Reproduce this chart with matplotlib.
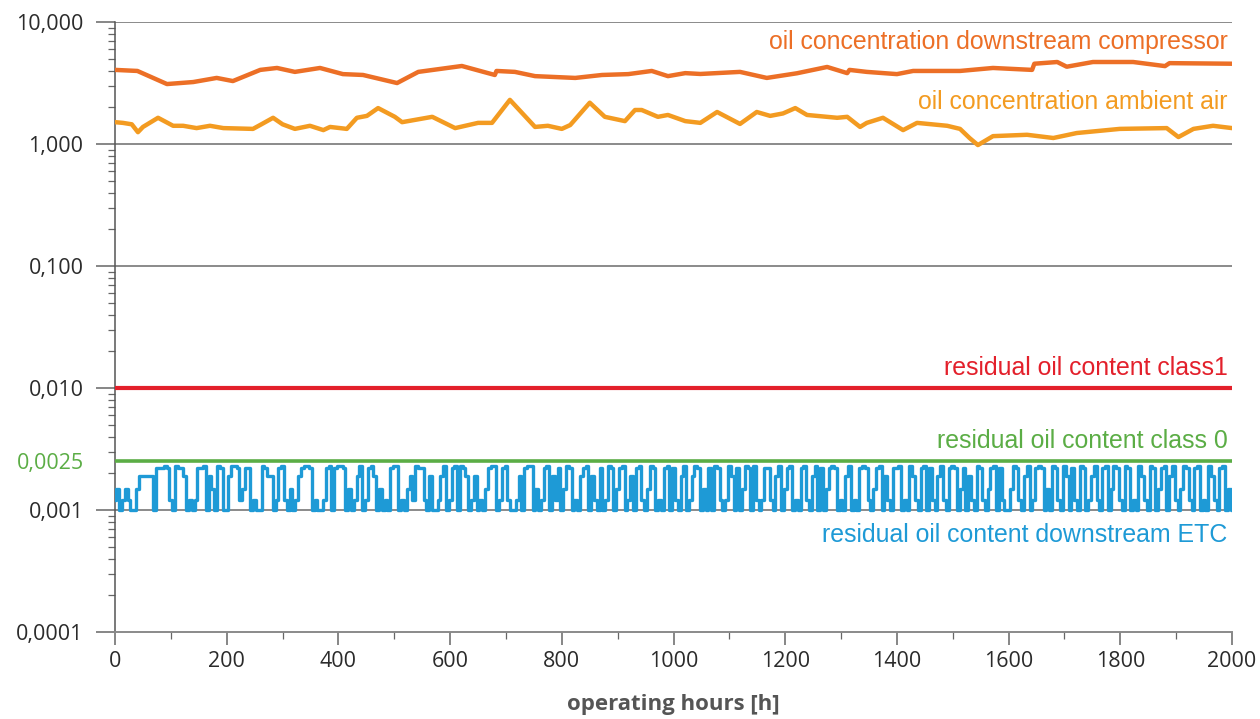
import numpy as np
import matplotlib
matplotlib.use("Agg")
from matplotlib import pyplot as plt
from matplotlib.ticker import FixedLocator, LogLocator, NullFormatter

# --- data ---
comp_hours = [0, 40, 93, 140, 182, 211, 260, 290, 322, 367, 408, 444, 505, 543,
              621, 680, 683, 716, 752, 824, 872, 919, 961, 990, 1021, 1048, 1119,
              1167, 1221, 1275, 1311, 1315, 1346, 1400, 1429, 1513, 1572, 1642,
              1646, 1687, 1704, 1751, 1823, 1880, 1888, 2000]
comp_values = [4.05, 3.97, 3.10, 3.22, 3.48, 3.28, 4.05, 4.2, 3.9, 4.2, 3.74, 3.68,
               3.16, 3.9, 4.36, 3.68, 3.97, 3.9, 3.6, 3.48, 3.68, 3.74, 3.97, 3.6,
               3.81, 3.75, 3.9, 3.48, 3.8, 4.28, 3.81, 4.05, 3.9, 3.74, 3.97, 3.97,
               4.2, 4.05, 4.55, 4.7, 4.3, 4.7, 4.7, 4.35, 4.6, 4.55]

amb_hours = [0, 14, 30, 41, 50, 77, 104, 122, 146, 170, 194, 247, 262, 283, 300,
             322, 349, 373, 385, 415, 433, 451, 471, 501, 514, 568, 609, 650, 675,
             707, 752, 775, 800, 815, 850, 877, 913, 931, 943, 972, 990, 1021,
             1048, 1078, 1119, 1149, 1173, 1196, 1218, 1239, 1293, 1311, 1334,
             1346, 1375, 1411, 1436, 1490, 1513, 1530, 1545, 1572, 1633, 1680,
             1722, 1799, 1883, 1904, 1931, 1966, 2000]
amb_values = [1.51, 1.49, 1.45, 1.25, 1.38, 1.64, 1.41, 1.41, 1.35, 1.41, 1.35,
              1.33, 1.45, 1.64, 1.45, 1.33, 1.41, 1.30, 1.38, 1.33, 1.64, 1.70,
              1.97, 1.67, 1.51, 1.67, 1.35, 1.49, 1.49, 2.30, 1.38, 1.41, 1.33,
              1.43, 2.18, 1.67, 1.54, 1.90, 1.90, 1.67, 1.73, 1.54, 1.49, 1.83,
              1.46, 1.83, 1.70, 1.78, 1.97, 1.73, 1.64, 1.67, 1.38, 1.49, 1.64,
              1.30, 1.49, 1.41, 1.33, 1.12, 0.98, 1.16, 1.19, 1.12, 1.23, 1.33,
              1.35, 1.14, 1.33, 1.41, 1.35]

class1_limit = 0.01
class0_limit = 0.0025

# residual oil downstream ETC, one reading every 5 h, coded as level index
etc_step = 5
etc_levels = [0.0010, 0.0012, 0.0015, 0.0019, 0.0022, 0.0023]
etc_codes = (
    "1201210023333304445410544301014450320540"
    "0355412440100543301451020134554010014504"
    "5540201350145302010455010231544103001350"
    "1450543013010245501451001304550201450314"
    "0254010345031040154024501304510254010450"
    "4103501354020405410153040254051014410350"
    "2450104510350402454010350104541024503104"
    "4501053104504103510454024031054102450410"
    "0254103501454020541053041054013510450254"
    "1054010531054024503510254104501053104502"
    "0"
)

ytick_values = [10, 1, 0.1, 0.01, 0.0025, 0.001, 0.0001]
ytick_labels = ["10,000", "1,000", "0,100", "0,010", "0,0025", "0,001", "0,0001"]

C_COMP = "#EC6F26"
C_AMB = "#F39B21"
C_RED = "#E3202B"
C_GREEN = "#5BAD45"
C_BLUE = "#1E9AD6"
C_GRID = "#8a8a8a"

fig = plt.figure(figsize=(12.6, 7.19), dpi=100)
ax = fig.add_axes([0.0913, 0.121, 0.8865, 0.8484])

etc_values = [etc_levels[int(c)] for c in etc_codes]
etc_hours = np.arange(len(etc_values)) * etc_step

ax.plot(comp_hours, comp_values, color=C_COMP, lw=3.2, solid_capstyle="round",
        solid_joinstyle="round", zorder=4)
ax.plot(amb_hours, amb_values, color=C_AMB, lw=3.2, solid_capstyle="round",
        solid_joinstyle="round", zorder=4)
ax.axhline(class1_limit, color=C_RED, lw=3, zorder=4)
ax.axhline(class0_limit, color=C_GREEN, lw=2.6, zorder=4)
ax.plot(etc_hours, etc_values, color=C_BLUE, lw=2.4, drawstyle="steps-mid", zorder=5)

ax.set_yscale("log")
ax.set_xlim(0, 2000)
ax.set_ylim(0.0001, 10)

# grid at each decade
for v in [10, 1, 0.1, 0.01, 0.001]:
    ax.axhline(v, color=C_GRID, lw=1.4, zorder=1)

ax.yaxis.set_major_locator(FixedLocator(ytick_values))
ax.set_yticklabels(ytick_labels)
ax.yaxis.set_minor_locator(LogLocator(base=10, subs=np.arange(2, 10)))
ax.yaxis.set_minor_formatter(NullFormatter())
ax.set_xticks(np.arange(0, 2001, 200))
ax.set_xticks(np.arange(100, 2000, 200), minor=True)

for lab in ax.get_yticklabels() + ax.get_xticklabels():
    lab.set_fontfamily("Open Sans")
    lab.set_fontsize(15.5)
    lab.set_color("#2b2b2b")
ax.get_yticklabels()[4].set_color(C_GREEN)
ax.yaxis.get_major_ticks()[4].tick1line.set_visible(False)

ax.tick_params(axis="y", which="major", length=13.7, width=1.1, color="#666", pad=9)
ax.tick_params(axis="y", which="minor", length=5, width=0.9, color="#666")
ax.tick_params(axis="x", which="major", length=9.5, width=1.1, color="#666", pad=4)
ax.tick_params(axis="x", which="minor", length=5, width=0.9, color="#666")

for s in ["top", "right"]:
    ax.spines[s].set_visible(False)
ax.spines["left"].set_color("#555")
ax.spines["left"].set_linewidth(1.1)
ax.spines["bottom"].set_color(C_GRID)
ax.spines["bottom"].set_linewidth(1.4)

ax.set_xlabel("operating hours [h]", fontfamily="Open Sans", fontweight="bold",
              fontsize=16, color="#555", labelpad=16)

lab_kw = dict(ha="right", va="center", fontfamily="Liberation Sans", fontsize=17.9,
              transform=ax.get_yaxis_transform())
ax.text(0.996, 6.85, "oil concentration downstream compressor", color=C_COMP, **lab_kw)
ax.text(0.996, 2.21, "oil concentration ambient air", color=C_AMB, **lab_kw)
ax.text(0.996, 0.0145, "residual oil content class1", color=C_RED, **lab_kw)
ax.text(0.996, 0.0037, "residual oil content class 0", color=C_GREEN, **lab_kw)
ax.text(0.996, 0.00062, "residual oil content downstream ETC", color=C_BLUE, **lab_kw)

fig.savefig("out.png", dpi=100)
plt.close(fig)
